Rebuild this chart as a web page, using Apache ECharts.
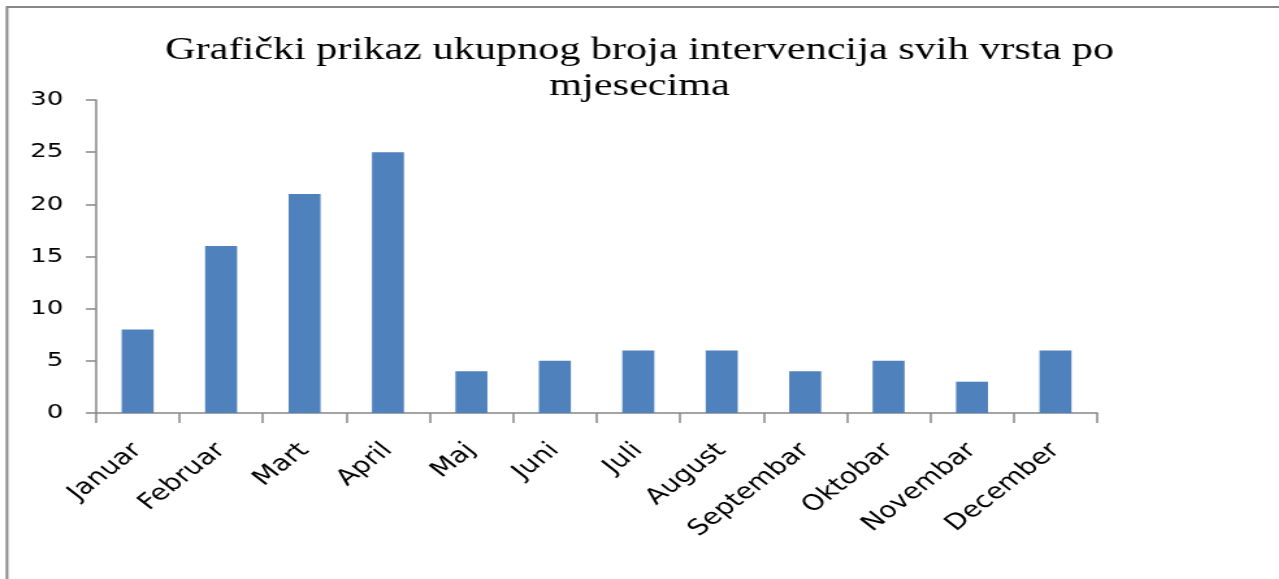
<!DOCTYPE html>
<html><head><meta charset="utf-8">
<script src="https://cdn.jsdelivr.net/npm/echarts@6/dist/echarts.min.js"></script>
<style>
html,body{margin:0;padding:0;background:#fff;overflow:hidden}
#wrap{width:1279px;height:579px;overflow:hidden;position:relative}
#c{width:984px;height:579px;transform:scaleX(1.3);transform-origin:0 0}
</style>
</head><body><div id="wrap"><div id="c"></div></div>
<script>
const titleText = 'Grafički prikaz ukupnog broja intervencija svih vrsta po\nmjesecima';
const categories = ['Januar','Februar','Mart','April','Maj','Juni','Juli','August','Septembar','Oktobar','Novembar','December'];
const values = [8,16,21,25,4,5,6,6,4,5,3,6];
const yTicks = {min:0, max:30, interval:5};

const chart = echarts.init(document.getElementById('c'), null, {renderer:'canvas'});
chart.setOption({
  animation:false,
  backgroundColor:'#fff',
  graphic:[{type:'rect', shape:{x:5.4,y:7,width:1400,height:700}, style:{fill:'none', stroke:'#868686', lineWidth:2}}],
  title:{text:titleText, left:'center', top:27,
    textStyle:{fontFamily:'Liberation Serif', fontSize:32.5, fontWeight:'normal', color:'#000', lineHeight:36}},
  grid:{left:73.8, right:140, top:100, bottom:166, containLabel:false},
  xAxis:{type:'category', data:categories,
    axisLine:{lineStyle:{color:'#868686', width:1.5}},
    axisTick:{show:true, alignWithLabel:false, length:10, lineStyle:{color:'#868686', width:1.5}},
    axisLabel:{rotate:45, fontFamily:'DejaVu Sans', fontSize:22, color:'#000', margin:34, interval:0}},
  yAxis:{type:'value', min:yTicks.min, max:yTicks.max, interval:yTicks.interval,
    splitLine:{show:false},
    axisLine:{show:true, lineStyle:{color:'#868686', width:1.5}},
    axisTick:{show:true, length:7.7, lineStyle:{color:'#868686', width:1.5}},
    axisLabel:{fontFamily:'DejaVu Sans', fontSize:20, color:'#000', margin:25}},
  series:[{type:'bar', data:values, barWidth:24.6, itemStyle:{color:'#4F81BD'}}]
});
</script></body></html>
